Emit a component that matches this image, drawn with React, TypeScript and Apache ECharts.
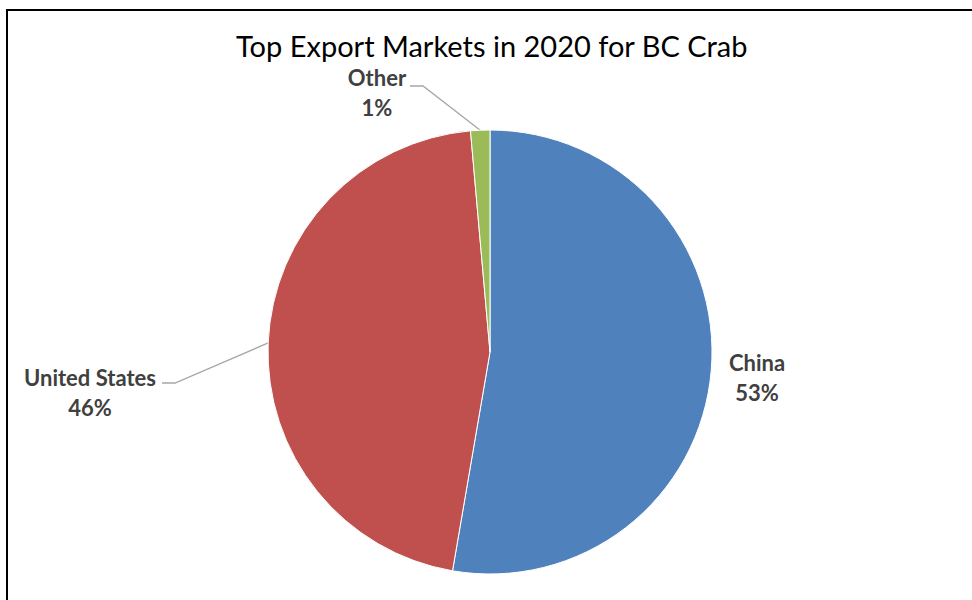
import React, { useEffect, useRef } from "react";
import * as echarts from "echarts";

const titleText = "Top Export Markets in 2020 for BC Crab";
const categories = ["China", "United States", "Other"];
const shares = [52.7, 45.9, 1.4];
const colors = ["#4F81BD", "#C0504D", "#9BBB59"];

export default function App() {
  const ref = useRef<HTMLDivElement>(null);
  useEffect(() => {
    if (!ref.current) return;
    const chart = echarts.init(ref.current, null, { renderer: "svg" });
    const font = "Lato, 'Open Sans', sans-serif";
    chart.setOption({
      animation: false,
      backgroundColor: "#ffffff",
      title: {
        text: titleText,
        left: 236,
        top: 31,
        padding: 0,
        itemGap: 0,
        textStyle: {
          fontFamily: font,
          fontSize: 29,
          fontWeight: "normal",
          color: "#000000",
        },
      },
      graphic: [
        {
          type: "rect",
          shape: { x: 7, y: 10, width: 1000, height: 700 },
          style: { fill: "none", stroke: "#000000", lineWidth: 2 },
          silent: true,
        },
      ],
      series: [
        {
          type: "pie",
          center: [490, 352],
          radius: [0, 222],
          startAngle: 90,
          clockwise: true,
          itemStyle: { borderColor: "#ffffff", borderWidth: 1 },
          label: {
            show: true,
            fontFamily: font,
            fontSize: 22,
            fontWeight: "bold",
            color: "#404040",
            lineHeight: 30,
            align: "center",
            formatter: (p: any) => `${p.name}\n${Math.round(p.percent)}%`,
          },
          labelLine: {
            show: true,
            lineStyle: { color: "#A6A6A6", width: 1.3 },
          },
          labelLayout: (params: any) => {
            const start = params.labelLinePoints ? params.labelLinePoints[0] : null;
            if (params.dataIndex === 0) {
              return { x: 757, y: 377, align: "center", verticalAlign: "middle" };
            }
            if (params.dataIndex === 1) {
              return {
                x: 90,
                y: 392,
                align: "center",
                verticalAlign: "middle",
                labelLinePoints: start ? [start, [175, 383], [162, 383]] : undefined,
              };
            }
            return {
              x: 377,
              y: 92,
              align: "center",
              verticalAlign: "middle",
              labelLinePoints: start ? [start, [423, 86], [410, 86]] : undefined,
            };
          },
          data: categories.map((name, i) => ({
            name,
            value: shares[i],
            itemStyle: { color: colors[i] },
            labelLine: i === 0 ? { show: false } : undefined,
          })),
        },
      ],
    });
    return () => chart.dispose();
  }, []);
  return (
    <div
      ref={ref}
      style={{ position: "absolute", left: 0, top: 0, width: 972, height: 600 }}
    />
  );
}
